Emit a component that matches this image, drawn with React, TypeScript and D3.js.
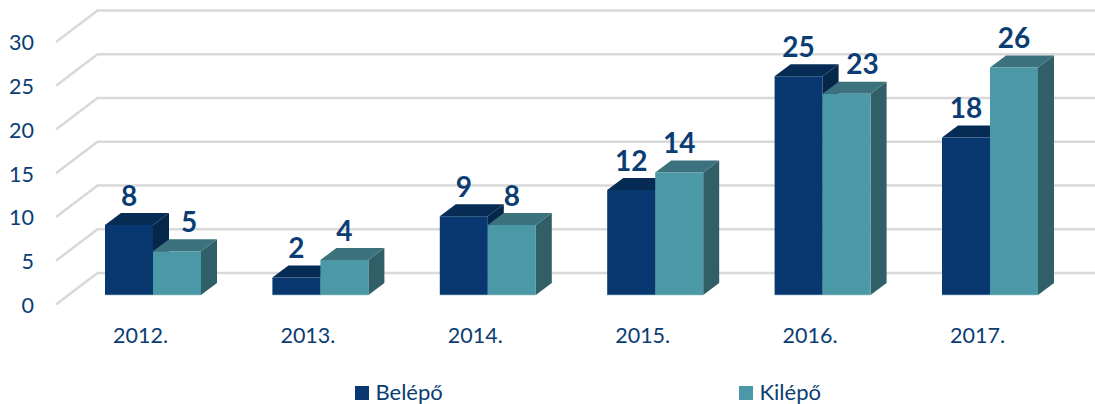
import React from "react";
import * as d3 from "d3";

const categories = ["2012.", "2013.", "2014.", "2015.", "2016.", "2017."];
const belepo = [8, 2, 9, 12, 25, 18];
const kilepo = [5, 4, 8, 14, 23, 26];
const yTicks = [0, 5, 10, 15, 20, 25, 30];
const seriesNames = ["Belépő", "Kilépő"];

const W = 1095, H = 404;
const FONT = "Lato, 'Open Sans', sans-serif";
const TEXT = "#0b3d73";
const FLOOR = 295, DX = 16, DY = 12;
const GRIDX0 = 56, GRIDX1 = 97.5, GRIDDY = 31.5;
const BARW = 48;

const palette = [
  { front: "#08386f", top: "#062b55", side: "#052848" },
  { front: "#4b98a6", top: "#3b727e", side: "#315f67" },
];

const x = d3.scaleBand<string>().domain(categories).range([105, 105 + 167.4 * 6]).paddingInner(0).paddingOuter(0);
const y = d3.scaleLinear().domain([0, 30]).range([0, 262.5]);

function Bar({ x0, v, c }: { x0: number; v: number; c: typeof palette[0] }) {
  const t = FLOOR - y(v);
  const x1 = x0 + BARW;
  const poly = (pts: number[][]) => pts.map((p) => p.join(",")).join(" ");
  return (
    <g>
      <polygon fill={c.side} points={poly([[x1, t], [x1 + DX, t - DY], [x1 + DX, FLOOR - DY], [x1, FLOOR]])} />
      <polygon fill={c.top} points={poly([[x0, t], [x0 + DX, t - DY], [x1 + DX, t - DY], [x1, t]])} />
      <rect x={x0} y={t} width={BARW} height={FLOOR - t} fill={c.front} />
      <line x1={x0} x2={x1} y1={FLOOR} y2={FLOOR} stroke="#9cc4cc" strokeOpacity={0.6} />
    </g>
  );
}

export default function App() {
  const wallBase = FLOOR - 22;
  return (
    <svg width={W} height={H} style={{ position: "absolute", left: 0, top: 0 }} fontFamily={FONT}>
      <rect width={W} height={H} fill="#fff" />
      {yTicks.map((t) => {
        const by = wallBase - y(t);
        return (
          <g key={t}>
            <polyline
              points={`${GRIDX0},${by + GRIDDY} ${GRIDX1},${by} ${W},${by}`}
              fill="none"
              stroke="#d9d9d9"
              strokeWidth={2.6}
            />
            <text x={34} y={by + GRIDDY + 8.3} textAnchor="end" fontSize={21.5} fill={TEXT}>{t}</text>
          </g>
        );
      })}
      {categories.map((cat, i) => {
        const x0 = x(cat)!;
        const groups = [belepo[i], kilepo[i]];
        return (
          <g key={cat}>
            {groups.map((v, s) => (
              <Bar key={s} x0={x0 + s * BARW} v={v} c={palette[s]} />
            ))}
            <text x={x0 + 35.5} y={343} textAnchor="middle" fontSize={21.5} fill={TEXT}>{cat}</text>
          </g>
        );
      })}
      {categories.map((cat, i) => {
        const x0 = x(cat)!;
        return [belepo[i], kilepo[i]].map((v, s) => {
          const nudged = s === 1 && (cat === "2012." || cat === "2016.");
          const lx = x0 + s * BARW + BARW / 2 + (nudged ? (cat === "2012." ? 12 : 16) : 0);
          const ly = FLOOR - y(v) - DY - 7.5;
          return (
            <text key={s} x={lx} y={ly} textAnchor="middle" fontSize={28} fontWeight={700} fill={TEXT}>{v}</text>
          );
        });
      })}
      {seriesNames.map((n, s) => {
        const lx = s === 0 ? 355 : 739;
        return (
          <g key={n}>
            <rect x={lx} y={386} width={14} height={14} fill={palette[s].front} />
            <text x={lx + 20.5} y={400} fontSize={22} fill={TEXT}>{n}</text>
          </g>
        );
      })}
    </svg>
  );
}
